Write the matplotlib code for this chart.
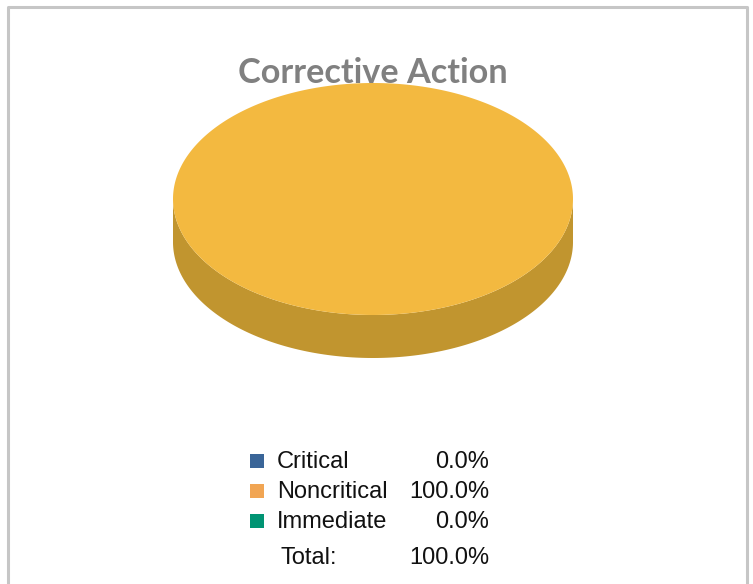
import numpy as np
import matplotlib
matplotlib.use("Agg")
import matplotlib.pyplot as plt
from matplotlib.patches import Polygon, Rectangle

# chart data
labels = ["Critical", "Noncritical", "Immediate"]
values = [0.0, 100.0, 0.0]
colors = ["#3A6598", "#F1A553", "#009473"]
pie_top = ["#3A6598", "#F3B940", "#009473"]
pie_side = ["#2C4C72", "#C1952F", "#006E56"]
total_label = "Total:"
title = "Corrective Action"

W, H = 753, 584
fig = plt.figure(figsize=(W / 100, H / 100), dpi=100)
ax = fig.add_axes([0, 0, 1, 1])
ax.set_xlim(0, W)
ax.set_ylim(H, 0)
ax.axis("off")

# chart border (bottom edge runs off the image)
ax.plot([8, 8, 747, 747], [H + 5, 7, 7, H + 5], color="#C6C6C6", lw=2.2, solid_capstyle="butt")

# 3d pie geometry
cx, cy, rx, ry, depth = 373, 199, 200, 116, 43
total = sum(values)
start = 90.0
t_edges = []
for v in values:
    span = 360.0 * v / total
    t_edges.append((start - span, start))
    start -= span

def rim(t0, t1, n=200):
    t = np.radians(np.linspace(t0, t1, n))
    return cx + rx * np.cos(t), cy - ry * np.sin(t)

# side walls (only front half, angles 180..360)
for (t0, t1), c in zip(t_edges, pie_side):
    if t1 - t0 <= 0:
        continue
    segs = []
    for k in (-360, 0, 360):
        a, b = max(t0 + k, 180), min(t1 + k, 360)
        if b > a:
            segs.append((a, b))
    for a, b in segs:
        x, y = rim(a, b)
        px = np.concatenate([x, x[::-1]])
        py = np.concatenate([y, y[::-1] + depth])
        ax.add_patch(Polygon(np.column_stack([px, py]), closed=True, fc=c, ec="none"))

# top faces
for (t0, t1), c in zip(t_edges, pie_top):
    if t1 - t0 <= 0:
        continue
    x, y = rim(t0, t1, 400)
    if t1 - t0 < 360:
        x = np.concatenate([[cx], x])
        y = np.concatenate([[cy], y])
    ax.add_patch(Polygon(np.column_stack([x, y]), closed=True, fc=c, ec="none"))

# title drawn over the pie
ax.text(373, 73, title, ha="center", va="center", fontsize=24.7,
        fontweight="bold", color="#808080", family="Lato")

# legend table
fs = 17
row_y = [462, 492, 522]
for yy, lab, v, c in zip(row_y, labels, values, colors):
    ax.add_patch(Rectangle((250, yy - 8), 14, 14, fc=c, ec="none"))
    ax.text(277, yy, lab, ha="left", va="center", fontsize=fs,
            family="Liberation Sans", color="#111111")
    ax.text(489, yy, f"{v:.1f}%", ha="right", va="center", fontsize=fs,
            family="Liberation Sans", color="#111111")
ax.text(281, 558, total_label, ha="left", va="center", fontsize=fs,
        family="Liberation Sans", color="#111111")
ax.text(489, 558, f"{total:.1f}%", ha="right", va="center", fontsize=fs,
        family="Liberation Sans", color="#111111")

fig.savefig("out.png", dpi=100)
